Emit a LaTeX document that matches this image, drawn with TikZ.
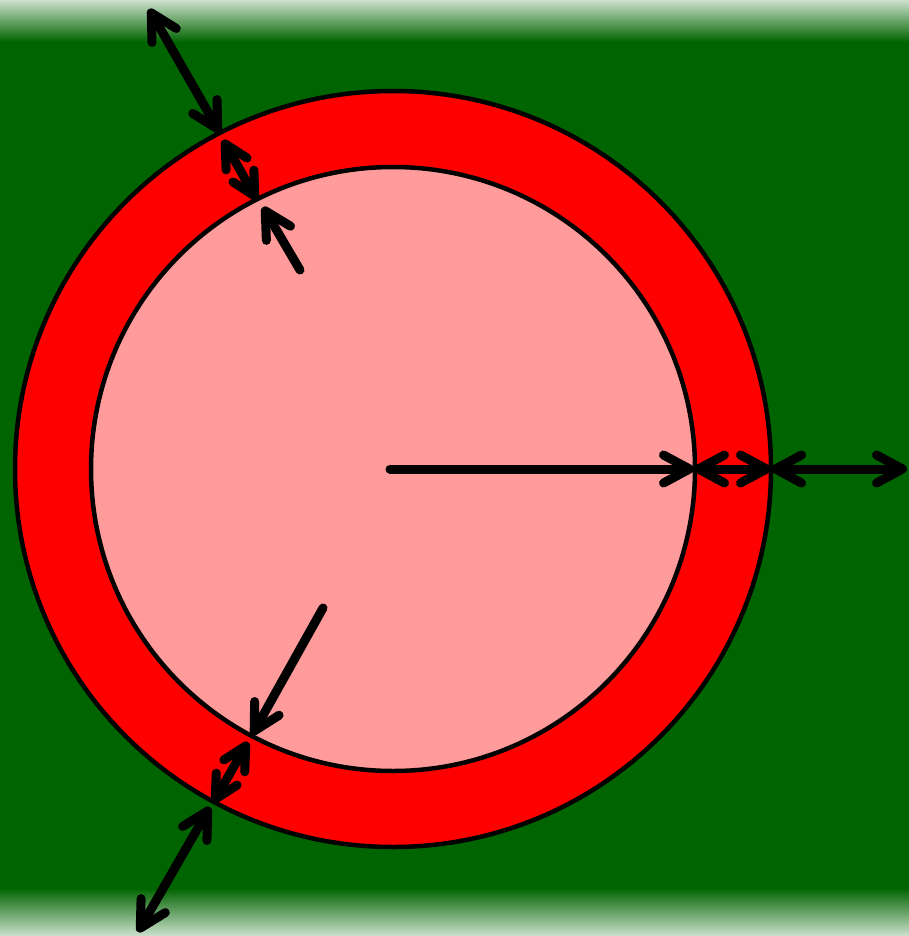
\documentclass[tikz,border=0pt]{standalone}
\usetikzlibrary{arrows.meta}
\definecolor{bggreen}{RGB}{0,100,0}
\definecolor{fadegreen}{RGB}{205,225,205}
\definecolor{ringred}{RGB}{255,0,0}
\definecolor{corepink}{RGB}{255,155,155}
\tikzset{
  barb/.tip={Straight Barb[length=26pt,width=28pt,round]},
  sbarb/.tip={Straight Barb[length=23pt,width=24pt,round]},
  dimline/.style={line width=9pt, line cap=round, {barb}-{barb}},
  shortdim/.style={line width=9pt, line cap=round, {sbarb}-{sbarb}},
  radline/.style={line width=9pt, line cap=round, -{barb}},
  ring/.style={line width=4.5pt, draw=black}
}
\begin{document}
\begin{tikzpicture}[x=1pt,y=-1pt]
\useasboundingbox (0,0) rectangle (909,936);
% background
\fill[bggreen] (0,0) rectangle (909,936);
\shade[top color=fadegreen,bottom color=bggreen] (0,0) rectangle (909,42);
\shade[top color=bggreen,bottom color=fadegreen] (0,888) rectangle (909,936);
% circles
\coordinate (c) at (393,469);
\filldraw[ring, fill=ringred] (c) circle (378pt);
\filldraw[ring, fill=corepink] (c) circle (302pt);
% points
\coordinate (center) at (390,469);
\coordinate (ir) at (694,469);
\coordinate (or) at (771,469);
\coordinate (er) at (907,469);
\coordinate (tlfar) at (149,9);
\coordinate (tlout) at (220,133);
\coordinate (tlout2) at (223,140);
\coordinate (tlin) at (257,200);
\coordinate (tlin2) at (263,207);
\coordinate (tlstart) at (300,270);
\coordinate (blstart) at (323,608);
\coordinate (blin) at (252,735);
\coordinate (blin2) at (248,742);
\coordinate (blout) at (213,803);
\coordinate (blout2) at (210,807);
\coordinate (blfar) at (138,932);
% arrows
\draw[radline] (center) -- (ir);
\draw[dimline] (ir) -- (or);
\draw[dimline] (or) -- (er);
\draw[dimline] (tlfar) -- (tlout);
\draw[shortdim] (tlout2) -- (tlin);
\draw[radline] (tlstart) -- (tlin2);
\draw[radline] (blstart) -- (blin);
\draw[shortdim] (blin2) -- (blout);
\draw[dimline] (blout2) -- (blfar);
\end{tikzpicture}
\end{document}
